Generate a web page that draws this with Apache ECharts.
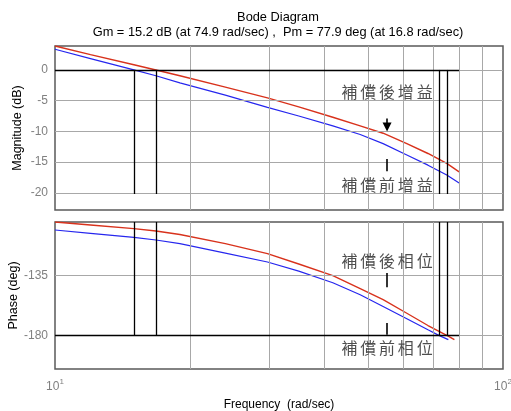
<!DOCTYPE html>
<html>
<head>
<meta charset="utf-8">
<script src="https://cdn.jsdelivr.net/npm/echarts@6/dist/echarts.min.js"></script>
<style>
  html, body { margin: 0; padding: 0; background: #fff; }
  #chart { width: 511px; height: 411px; }
</style>
</head>
<body>
<div id="chart"></div>
<script>
// Frequencies (rad/sec) at which the responses are sampled
const freqMag = [10, 12, 15, 16.8, 19, 24, 29.8, 35, 41.7, 48, 54, 61, 68, 74.9, 79.8];
// Magnitude (dB): compensated and uncompensated loop
const magAfter  = [3.9, 2.5, 0.85, 0.0, -0.95, -2.8, -4.55, -6.0, -7.7, -9.1, -10.3, -12.0, -13.6, -15.2, -16.6];
const magBefore = [3.37, 1.85, 0.0, -0.94, -2.1, -4.1, -6.1, -7.5, -9.1, -10.5, -12.0, -13.85, -15.5, -17.1, -18.4];

// Phase (deg)
const freqPhaseAfter  = [10, 12, 15, 16.8, 19, 24, 29.8, 35, 41.7, 48, 54, 61, 68, 74.9, 77.9];
const phaseAfter      = [-95.0, -97.2, -100.0, -101.7, -104.4, -111.2, -118.7, -126.5, -135.2, -144.9, -153.2, -163.4, -172.6, -180.0, -183.2];
const freqPhaseBefore = [10, 12, 15, 16.8, 19, 24, 29.8, 35, 41.7, 48, 54, 61, 68, 71.9, 75.5];
const phaseBefore     = [-101.0, -103.5, -106.5, -108.5, -111.2, -118.3, -125.0, -131.8, -140.5, -149.5, -158.3, -167.5, -175.8, -180.0, -183.2];

// Crossover frequencies (rad/sec): phase-margin and gain-margin markers
const pmFreqs = [15.0, 16.8];
const gmFreqs = [71.9, 74.9];
const marginLineEnd = 79.8;

// Axis ranges and tick values
const freqRange = [10, 100];
const magRange = [-22.8, 3.9];
const phaseRange = [-205.2, -95];
const magTicks = [0, -5, -10, -15, -20];
const phaseTicks = [-135, -180];
const freqGrid = [20, 30, 40, 50, 60, 70, 80, 90];

// Annotation text
const titleText = 'Bode Diagram\nGm = 15.2 dB (at 74.9 rad/sec) ,  Pm = 77.9 deg (at 16.8 rad/sec)';
const magLabelAfter = '補償後增益';
const magLabelBefore = '補償前增益';
const phaseLabelAfter = '補償後相位';
const phaseLabelBefore = '補償前相位';
const annotFreq = 55.1;

const RED = '#d8321c';
const BLUE = '#2626ee';
const GRID = '#a8a8a8';
const AXIS_FONT = 'Liberation Sans, Arial, sans-serif';
const CJK_FONT = '"Noto Sans CJK TC", "Noto Sans CJK SC", sans-serif';

const pairs = (xs, ys) => xs.map((x, i) => [x, ys[i]]);

// spaced CJK label through rich text
const spaced = s => s.split('').map(c => '{c|' + c + '}').join('{g|}');
const cjkRich = {
  c: { fontFamily: CJK_FONT, fontSize: 16, color: '#222' },
  g: { width: 2.8, fontSize: 1 }
};

const blackLine = { color: '#000', width: 1.3, type: 'solid' };
const grayLine = { color: GRID, width: 1, type: 'solid' };

function seg(a, b, style) {
  return [{ coord: a, lineStyle: style }, { coord: b }];
}

// Grid line segments for a subplot
function gridSegments(yTicks, yRange) {
  const out = [];
  freqGrid.forEach(f => out.push(seg([f, yRange[0]], [f, yRange[1]], grayLine)));
  yTicks.forEach(v => out.push(seg([freqRange[0], v], [freqRange[1], v], grayLine)));
  return out;
}

// Margin marker segments
function marginSegments(level, yFrom, yTo) {
  const out = [seg([freqRange[0], level], [marginLineEnd, level], blackLine)];
  pmFreqs.concat(gmFreqs).forEach(f => out.push(seg([f, yFrom], [f, yTo], blackLine)));
  return out;
}

function helperSeries(idx, lines, z) {
  return {
    type: 'line', xAxisIndex: idx, yAxisIndex: idx, data: [], z: z,
    silent: true, animation: false,
    markLine: { silent: true, symbol: 'none', label: { show: false }, animation: false, data: lines }
  };
}

function textSeries(idx, x, y, text) {
  return {
    type: 'scatter', xAxisIndex: idx, yAxisIndex: idx, z: 6, silent: true, animation: false,
    symbolSize: 1, itemStyle: { color: 'rgba(0,0,0,0)' },
    data: [[x, y]],
    label: { show: true, position: 'inside', formatter: spaced(text), rich: cjkRich }
  };
}

const chart = echarts.init(document.getElementById('chart'), null, { renderer: 'canvas' });

const xAxisBase = {
  type: 'log', logBase: 10, min: freqRange[0], max: freqRange[1],
  axisLine: { show: false }, axisTick: { show: false },
  splitLine: { show: false }, minorSplitLine: { show: false }
};

const yAxisBase = {
  type: 'value',
  axisLine: { show: false },
  splitLine: { show: false },
  nameLocation: 'middle',
  nameMoveOverlap: false,
  nameTextStyle: { fontFamily: AXIS_FONT, fontSize: 12.5, color: '#000' }
};

const gridBase = {
  left: 55, right: 8, show: true, borderColor: '#5a5a5a', borderWidth: 1.5,
  backgroundColor: '#fff', containLabel: false, outerBoundsMode: 'none'
};

chart.setOption({
  backgroundColor: '#fff',
  animation: false,
  title: {
    text: titleText, left: 273, top: 5, textAlign: 'center',
    textStyle: { fontFamily: AXIS_FONT, fontSize: 12.8, fontWeight: 'normal', color: '#000', lineHeight: 15 }
  },
  grid: [
    Object.assign({}, gridBase, { top: 46, height: 164 }),
    Object.assign({}, gridBase, { top: 222, height: 147 })
  ],
  xAxis: [
    Object.assign({}, xAxisBase, { gridIndex: 0, axisLabel: { show: false } }),
    Object.assign({}, xAxisBase, {
      gridIndex: 1,
      name: 'Frequency  (rad/sec)', nameLocation: 'middle', nameGap: 30, nameMoveOverlap: false,
      nameTextStyle: { fontFamily: AXIS_FONT, fontSize: 12, color: '#000' },
      axisLabel: {
        margin: 9,
        formatter: v => '{b|10}{s|' + Math.round(Math.log10(v)) + '}',
        rich: {
          b: { fontFamily: AXIS_FONT, fontSize: 12, color: '#808080' },
          s: { fontFamily: AXIS_FONT, fontSize: 8, color: '#808080', padding: [0, 0, 9, 0] }
        }
      }
    })
  ],
  yAxis: [
    Object.assign({}, yAxisBase, {
      gridIndex: 0, min: magRange[0], max: magRange[1],
      name: 'Magnitude (dB)', nameGap: 31,
      axisTick: { show: true, inside: true, length: 4, customValues: magTicks, lineStyle: { color: '#5a5a5a' } },
      axisLabel: { customValues: magTicks, margin: 7, fontFamily: AXIS_FONT, fontSize: 12, color: '#808080' }
    }),
    Object.assign({}, yAxisBase, {
      gridIndex: 1, min: phaseRange[0], max: phaseRange[1],
      name: 'Phase (deg)', nameGap: 35,
      axisTick: { show: true, inside: true, length: 4, customValues: phaseTicks, lineStyle: { color: '#5a5a5a' } },
      axisLabel: { customValues: phaseTicks, margin: 7, fontFamily: AXIS_FONT, fontSize: 12, color: '#808080' }
    })
  ],
  series: [
    // grid lines
    helperSeries(0, gridSegments(magTicks, magRange), 1),
    helperSeries(1, gridSegments(phaseTicks, phaseRange), 1),
    // margin markers
    helperSeries(0, marginSegments(0, 0, -20.2), 2),
    helperSeries(1, marginSegments(-180, phaseRange[1], -180), 2),
    // responses
    { name: 'mag-before', type: 'line', xAxisIndex: 0, yAxisIndex: 0, z: 3, showSymbol: false, symbol: 'none',
      lineStyle: { color: BLUE, width: 1.2 }, data: pairs(freqMag, magBefore) },
    { name: 'mag-after', type: 'line', xAxisIndex: 0, yAxisIndex: 0, z: 4, showSymbol: false, symbol: 'none',
      lineStyle: { color: RED, width: 1.4 }, data: pairs(freqMag, magAfter) },
    { name: 'phase-before', type: 'line', xAxisIndex: 1, yAxisIndex: 1, z: 3, showSymbol: false, symbol: 'none',
      lineStyle: { color: BLUE, width: 1.2 }, data: pairs(freqPhaseBefore, phaseBefore) },
    { name: 'phase-after', type: 'line', xAxisIndex: 1, yAxisIndex: 1, z: 4, showSymbol: false, symbol: 'none',
      lineStyle: { color: RED, width: 1.4 }, data: pairs(freqPhaseAfter, phaseAfter) },
    // pointer marks next to the labels
    {
      type: 'line', xAxisIndex: 0, yAxisIndex: 0, data: [], z: 5, silent: true, animation: false,
      markLine: {
        silent: true, label: { show: false }, animation: false,
        data: [
          [{ coord: [annotFreq, -7.9], symbol: 'none', lineStyle: { color: '#000', width: 1.6, type: 'solid' } },
           { coord: [annotFreq, -9.3], symbol: 'triangle', symbolSize: 9 }],
          [{ coord: [annotFreq, -14.5], symbol: 'none', lineStyle: { color: '#000', width: 1.6, type: 'solid' } },
           { coord: [annotFreq, -16.5], symbol: 'none' }]
        ]
      }
    },
    {
      type: 'line', xAxisIndex: 1, yAxisIndex: 1, data: [], z: 5, silent: true, animation: false,
      markLine: {
        silent: true, symbol: 'none', label: { show: false }, animation: false,
        lineStyle: { color: '#000', width: 1.6, type: 'solid' },
        data: [
          [{ coord: [annotFreq, -133.2] }, { coord: [annotFreq, -144.0] }],
          [{ coord: [annotFreq, -170.7] }, { coord: [annotFreq, -179.5] }]
        ]
      }
    },
    textSeries(0, annotFreq, -3.6, magLabelAfter),
    textSeries(0, annotFreq, -18.7, magLabelBefore),
    textSeries(1, annotFreq, -124.2, phaseLabelAfter),
    textSeries(1, annotFreq, -189.5, phaseLabelBefore)
  ]
});
</script>
</body>
</html>
